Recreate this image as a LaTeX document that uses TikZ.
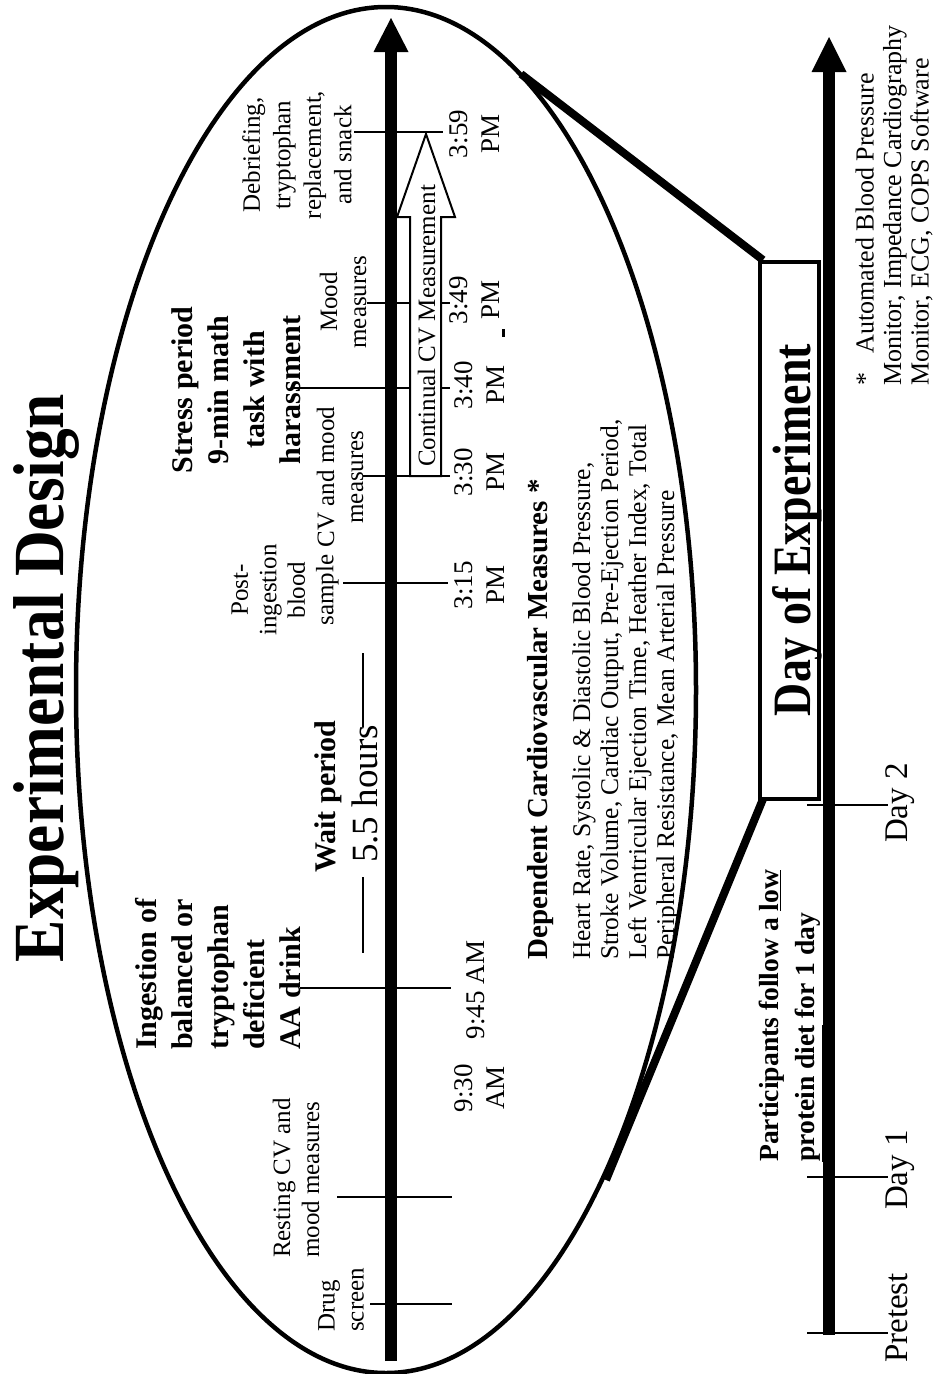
\documentclass[tikz,border=0pt]{standalone}
\usepackage{fontspec}
\setmainfont{Liberation Serif}
\usepackage{graphicx}
\begin{document}
\begin{tikzpicture}[x=1pt,y=-1pt,
  lbl/.style={rotate=90,inner sep=0pt,font=\fontsize{25}{29}\selectfont},
  bld/.style={rotate=90,inner sep=0pt,font=\fontsize{30}{36}\selectfont\bfseries},
  tme/.style={rotate=90,inner sep=0pt,align=center,font=\fontsize{27}{32}\selectfont},
  day/.style={rotate=90,inner sep=0pt,anchor=base,font=\fontsize{33}{38}\selectfont},
  tk/.style={line width=2pt}]
  \useasboundingbox (0,0) rectangle (934,1374);
  % zoom ellipse and day-of-experiment box
  \draw[line width=4.5pt] (386,690) ellipse (310 and 683);
  \draw[line width=8pt] (763,260) -- (521,74);
  \draw[line width=8pt] (763,799) -- (606,1180);
  \draw[line width=4.5pt,fill=white] (760,262) rectangle (819,799);
  % study days axis
  \draw[line width=12pt] (829,1335) -- (829,70);
  \fill (811.5,72) -- (829,37) -- (846.5,72) -- cycle;
  \draw[tk] (807,805) -- (888,805);
  \draw[tk] (807,1177) -- (888,1177);
  \draw[tk] (807,1333) -- (888,1333);
  % timeline of the day
  \draw[line width=12pt] (391,1361) -- (391,50);
  \fill (373.5,52) -- (391,18) -- (408.5,52) -- cycle;
  \draw[tk] (370,1304) -- (452,1304);
  \draw[tk] (337,1197) -- (452,1197);
  \draw[tk] (300,988) -- (451,988);
  \draw[tk] (343,583) -- (448,583);
  \draw[tk] (294,388) -- (450,388);
  \draw[tk] (367,303) -- (450,303);
  \draw[tk] (354,132) -- (443,132);
  \draw[line width=2pt,fill=white] (410,476) -- (410,217) -- (397,217) -- (426,134)
    -- (455,217) -- (441,217) -- (441,476) -- cycle;
  \draw[tk] (363,476) -- (450,476);
  \draw[line width=3pt] (503,329) -- (503,337);
  \draw[line width=2.5pt] (363,877) -- (363,953);
  \draw[line width=2.5pt] (363,653) -- (363,727);
  % labels
  \node[rotate=90,inner sep=0pt,anchor=base,font=\fontsize{72}{80}\selectfont\bfseries] (title)
    at (63,678) {\scalebox{0.88}[1]{Experimental Design}};
  \node[lbl,align=left,anchor=west] (drug) at (341,1332) {Drug\\screen};
  \node[lbl,align=left,anchor=west] (resting) at (296,1258) {Resting CV and\\mood measures};
  \node[bld,align=left,anchor=west] (ingest) at (218,1050)
    {Ingestion of\\balanced or\\tryptophan\\deficient\\AA drink};
  \node[bld,anchor=base west] (wait) at (335,873) {Wait period};
  \node[rotate=90,inner sep=0pt,anchor=base west,font=\fontsize{37}{42}\selectfont] (hours)
    at (377,863) {5.5 hours};
  \node[lbl,align=center,font=\fontsize{25}{28.5}\selectfont] (blood) at (285,590)
    {Post-\\ingestion\\blood\\sample};
  \node[lbl,align=center] (cvmood) at (340,477) {CV and mood\\measures};
  \node[bld,align=center] (stress) at (236,390)
    {Stress period\\9-min math\\task with\\harassment};
  \node[lbl,align=center] (mood) at (343,302) {Mood\\measures};
  \node[lbl,align=center,font=\fontsize{25}{30.5}\selectfont] (debrief) at (297,155)
    {Debriefing,\\tryptophan\\replacement,\\and snack};
  \node[lbl,anchor=base] (cvm) at (435,326) {Continual CV Measurement};
  \node[tme] (t930) at (480,1088) {9:30\\AM};
  \node[tme,anchor=base] (t945) at (484,990) {9:45 AM};
  \node[tme] (t315) at (480,585) {3:15\\PM};
  \node[tme] (t330) at (480,472) {3:30\\PM};
  \node[tme] (t340) at (480,385) {3:40\\PM};
  \node[tme] (t349) at (475,300) {3:49\\PM};
  \node[tme] (t359) at (475,134) {3:59\\PM};
  \node[bld,anchor=base west,font=\fontsize{29}{34}\selectfont\bfseries] (dep) at (547,960)
    {Dependent Cardiovascular Measures *};
  \node[lbl,align=left,anchor=west,font=\fontsize{25.5}{28}\selectfont] (cvlist) at (626,960)
    {Heart Rate, Systolic \& Diastolic Blood Pressure,\\
     Stroke Volume, Cardiac Output, Pre-Ejection Period,\\
     Left Ventricular Ejection Time, Heather Index, Total\\
     Peripheral Resistance, Mean Arterial Pressure};
  \node[rotate=90,inner sep=0pt,anchor=base,font=\fontsize{54}{60}\selectfont\bfseries] (dayexp)
    at (810,530) {\scalebox{0.85}[1]{Day of Experiment}};
  \node[bld,align=left,anchor=west,font=\fontsize{27.6}{36}\selectfont\bfseries] (diet) at (791,1162)
    {Participants follow a \underline{low}\\\underline{protein diet} for 1 day};
  \node[day] (pretest) at (907,1318) {Pretest};
  \node[day] (day1) at (907,1170) {Day 1};
  \node[day] (day2) at (907,803) {Day 2};
  \node[lbl,align=left,anchor=west,font=\fontsize{26}{27.5}\selectfont] (note) at (894,386)
    {*~~ Automated Blood Pressure\\Monitor, Impedance Cardiography\\Monitor, ECG, COPS Software};
\end{tikzpicture}
\end{document}
